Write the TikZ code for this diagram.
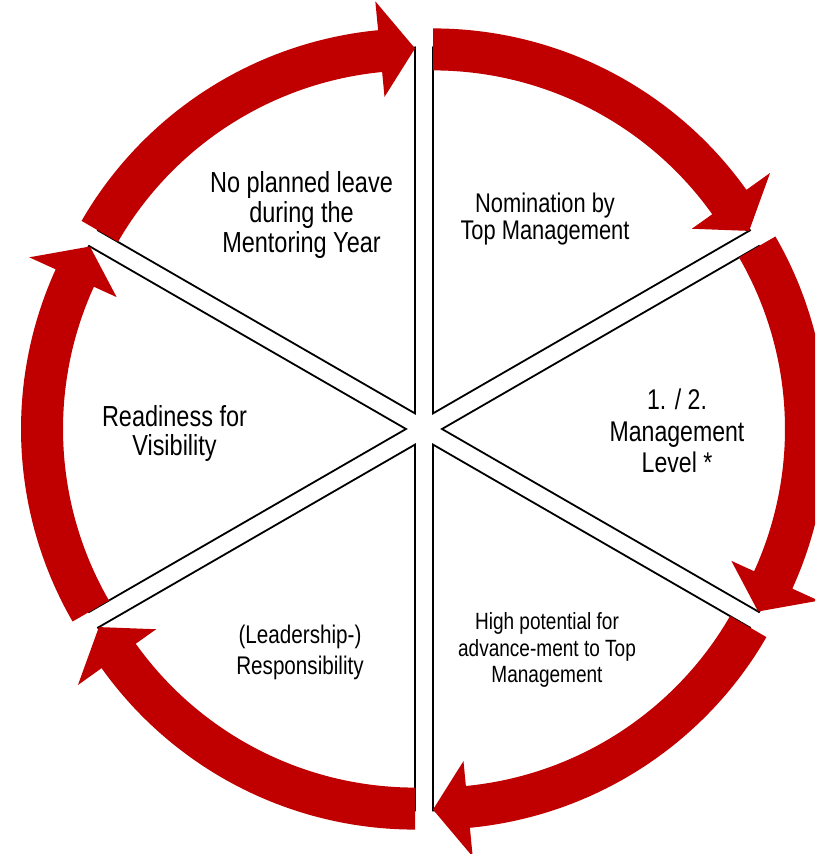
\documentclass[tikz,border=0pt]{standalone}
\usepackage{fontspec}
\setmainfont{Liberation Sans}[FakeStretch=0.81]
\usetikzlibrary{calc}
\definecolor{arrowred}{RGB}{192,0,0}
\begin{document}
\begin{tikzpicture}[x=1pt,y=1pt,
  spoke/.style={draw=black,line width=1.8pt},
  cyclearrow/.style={fill=arrowred},
  lbl/.style={align=center,inner sep=0pt,anchor=base}]
\useasboundingbox (0,0) rectangle (815,854);
\clip (0,0) rectangle (815,854);
\fill[white] (0,0) rectangle (815,854);
\coordinate (C) at (424,425);
% sectors
\foreach \a/\bis in {30/60, -30/0, -90/-60, 210/240, 150/180, 90/120} {
  \begin{scope}[shift={($(C)+(\bis:18)$)}]
    \draw[spoke] (0,0) -- (\a:366) arc[start angle=\a, end angle={\a+60}, radius=366] -- cycle;
  \end{scope}
}
% arrows
\foreach \a/\bis in {30/60, -30/0, -90/-60, 210/240, 150/180, 90/120} {
  \begin{scope}[shift={($(C)+(\bis:18)$)}]
    \fill[cyclearrow] ({\a+60}:385) arc[start angle={\a+60}, end angle={\a+5.5}, radius=385]
      -- ({\a+5.5}:414) -- (\a:365) -- ({\a+5.5}:318) -- ({\a+5.5}:343)
      arc[start angle={\a+5.5}, end angle={\a+60}, radius=343] -- cycle;
  \end{scope}
}
% labels (anchor = baseline of the last line)
\node[lbl,font=\fontsize{29}{30}\selectfont] (leave) at (301.5,601) {No planned leave\\during the\\Mentoring Year};
\node[lbl,font=\fontsize{27}{27}\selectfont] (nom) at (545,614) {Nomination by\\Top Management};
\node[lbl,font=\fontsize{28.5}{31.5}\selectfont] (level) at (677,381) {1. / 2.\\Management\\Level *};
\node[lbl,font=\fontsize{23.5}{26.5}\selectfont] (pot) at (547,171) {High potential for\\advance-ment to Top\\Management};
\node[lbl,font=\fontsize{25.5}{31}\selectfont] (lead) at (300,179) {(Leadership-)\\Responsibility};
\node[lbl,font=\fontsize{29}{29}\selectfont] (vis) at (174.5,398) {Readiness for\\Visibility};
\end{tikzpicture}
\end{document}
